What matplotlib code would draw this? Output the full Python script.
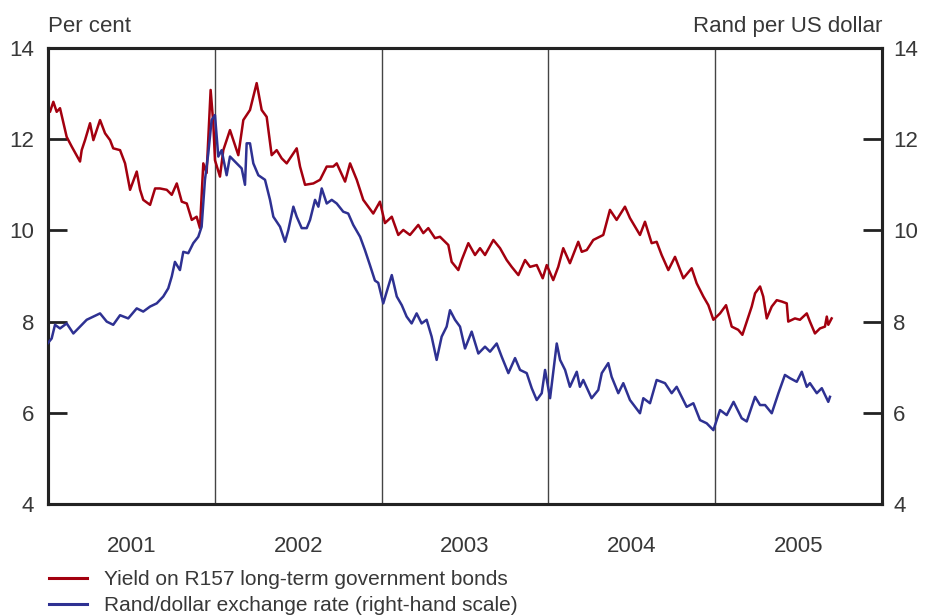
import matplotlib
matplotlib.use("Agg")
import matplotlib.pyplot as plt
from matplotlib.lines import Line2D

# R157 bond yield (per cent), decimal-year positions
yield_t = [
    2001.000, 2001.012, 2001.032, 2001.052, 2001.072, 2001.112, 2001.142, 2001.192, 2001.202, 2001.222,
    2001.252, 2001.272, 2001.312, 2001.342, 2001.372, 2001.391, 2001.432, 2001.462, 2001.492, 2001.532,
    2001.552, 2001.571, 2001.612, 2001.642, 2001.671, 2001.712, 2001.742, 2001.772, 2001.802, 2001.832,
    2001.862, 2001.891, 2001.911, 2001.931, 2001.951, 2001.975, 2001.991, 2002.001, 2002.031, 2002.051,
    2002.091, 2002.141, 2002.171, 2002.211, 2002.251, 2002.281, 2002.311, 2002.341, 2002.371, 2002.401,
    2002.431, 2002.491, 2002.511, 2002.541, 2002.591, 2002.631, 2002.671, 2002.710, 2002.731, 2002.781,
    2002.811, 2002.851, 2002.890, 2002.920, 2002.950, 2002.990, 2003.020, 2003.061, 2003.100, 2003.130,
    2003.170, 2003.220, 2003.250, 2003.280, 2003.320, 2003.350, 2003.400, 2003.420, 2003.460, 2003.480,
    2003.520, 2003.560, 2003.590, 2003.620, 2003.670, 2003.710, 2003.750, 2003.780, 2003.820, 2003.860,
    2003.890, 2003.930, 2003.966, 2003.990, 2004.029, 2004.059, 2004.089, 2004.129, 2004.179, 2004.200,
    2004.230, 2004.269, 2004.329, 2004.369, 2004.409, 2004.459, 2004.489, 2004.549, 2004.579, 2004.619,
    2004.649, 2004.679, 2004.719, 2004.759, 2004.809, 2004.859, 2004.889, 2004.929, 2004.959, 2004.989,
    2005.029, 2005.065, 2005.099, 2005.138, 2005.163, 2005.189, 2005.219, 2005.239, 2005.269, 2005.288,
    2005.309, 2005.339, 2005.369, 2005.399, 2005.429, 2005.438, 2005.478, 2005.508, 2005.549, 2005.568,
    2005.598, 2005.628, 2005.658, 2005.669, 2005.678, 2005.698,
]
yield_v = [
    12.65, 12.60, 12.82, 12.60, 12.68, 12.05, 11.84, 11.51, 11.76, 11.98,
    12.35, 11.98, 12.42, 12.13, 11.98, 11.80, 11.76, 11.47, 10.89, 11.29,
    10.89, 10.67, 10.56, 10.92, 10.92, 10.89, 10.78, 11.03, 10.63, 10.59,
    10.23, 10.30, 10.05, 11.47, 11.26, 13.08, 12.35, 11.54, 11.18, 11.76,
    12.20, 11.65, 12.42, 12.64, 13.23, 12.64, 12.49, 11.65, 11.76, 11.58,
    11.47, 11.80, 11.40, 11.00, 11.03, 11.11, 11.40, 11.40, 11.47, 11.07,
    11.47, 11.11, 10.67, 10.52, 10.37, 10.63, 10.16, 10.30, 9.90, 10.01,
    9.90, 10.12, 9.94, 10.05, 9.83, 9.86, 9.68, 9.31, 9.13, 9.35,
    9.72, 9.46, 9.61, 9.46, 9.79, 9.61, 9.35, 9.20, 9.02, 9.35,
    9.20, 9.24, 8.95, 9.24, 8.91, 9.20, 9.61, 9.28, 9.75, 9.53,
    9.57, 9.79, 9.90, 10.45, 10.23, 10.52, 10.27, 9.90, 10.19, 9.72,
    9.75, 9.46, 9.13, 9.42, 8.95, 9.17, 8.84, 8.55, 8.36, 8.04,
    8.18, 8.36, 7.89, 7.82, 7.71, 8.00, 8.33, 8.62, 8.77, 8.55,
    8.07, 8.33, 8.47, 8.44, 8.40, 8.00, 8.07, 8.04, 8.18, 8.00,
    7.74, 7.85, 7.89, 8.11, 7.93, 8.07,
]

# Rand per US dollar (right-hand scale)
rand_t = [
    2001.000, 2001.022, 2001.042, 2001.072, 2001.112, 2001.152, 2001.192, 2001.232, 2001.272, 2001.312,
    2001.352, 2001.391, 2001.432, 2001.481, 2001.532, 2001.571, 2001.612, 2001.652, 2001.691, 2001.721,
    2001.742, 2001.761, 2001.791, 2001.811, 2001.841, 2001.871, 2001.901, 2001.921, 2001.941, 2001.961,
    2001.981, 2002.001, 2002.021, 2002.041, 2002.071, 2002.091, 2002.131, 2002.161, 2002.181, 2002.191,
    2002.211, 2002.231, 2002.261, 2002.301, 2002.331, 2002.351, 2002.391, 2002.421, 2002.441, 2002.471,
    2002.491, 2002.521, 2002.551, 2002.571, 2002.601, 2002.621, 2002.641, 2002.671, 2002.701, 2002.731,
    2002.770, 2002.800, 2002.830, 2002.871, 2002.900, 2002.930, 2002.960, 2002.980, 2003.010, 2003.040,
    2003.061, 2003.091, 2003.121, 2003.150, 2003.180, 2003.210, 2003.240, 2003.270, 2003.300, 2003.330,
    2003.360, 2003.390, 2003.410, 2003.440, 2003.470, 2003.500, 2003.540, 2003.580, 2003.620, 2003.650,
    2003.690, 2003.720, 2003.760, 2003.800, 2003.830, 2003.870, 2003.900, 2003.930, 2003.960, 2003.980,
    2004.010, 2004.050, 2004.070, 2004.100, 2004.129, 2004.170, 2004.189, 2004.209, 2004.259, 2004.299,
    2004.320, 2004.359, 2004.379, 2004.419, 2004.449, 2004.489, 2004.549, 2004.569, 2004.609, 2004.649,
    2004.699, 2004.739, 2004.769, 2004.829, 2004.869, 2004.909, 2004.949, 2004.989, 2005.029, 2005.069,
    2005.110, 2005.159, 2005.189, 2005.239, 2005.269, 2005.299, 2005.339, 2005.379, 2005.418, 2005.448,
    2005.489, 2005.519, 2005.549, 2005.568, 2005.609, 2005.639, 2005.678, 2005.688,
]
rand_v = [
    7.53, 7.63, 7.93, 7.85, 7.96, 7.74, 7.89, 8.04, 8.11, 8.18,
    8.00, 7.93, 8.14, 8.07, 8.29, 8.22, 8.33, 8.40, 8.55, 8.73,
    8.99, 9.31, 9.13, 9.53, 9.50, 9.72, 9.86, 10.08, 11.11, 11.69,
    12.42, 12.53, 11.62, 11.76, 11.21, 11.62, 11.47, 11.36, 11.00, 11.91,
    11.91, 11.47, 11.21, 11.11, 10.67, 10.30, 10.08, 9.75, 10.01, 10.52,
    10.30, 10.05, 10.05, 10.23, 10.67, 10.52, 10.92, 10.59, 10.67, 10.59,
    10.41, 10.37, 10.12, 9.86, 9.57, 9.24, 8.90, 8.85, 8.40, 8.77,
    9.02, 8.55, 8.36, 8.11, 7.96, 8.18, 7.96, 8.04, 7.67, 7.16,
    7.67, 7.89, 8.25, 8.04, 7.89, 7.41, 7.78, 7.30, 7.45, 7.34,
    7.52, 7.23, 6.87, 7.20, 6.94, 6.87, 6.54, 6.28, 6.43, 6.94,
    6.32, 7.52, 7.16, 6.94, 6.57, 6.90, 6.57, 6.72, 6.32, 6.50,
    6.87, 7.09, 6.79, 6.43, 6.65, 6.28, 5.99, 6.32, 6.21, 6.72,
    6.65, 6.43, 6.57, 6.13, 6.21, 5.84, 5.77, 5.62, 6.06, 5.95,
    6.24, 5.88, 5.81, 6.35, 6.17, 6.17, 5.99, 6.43, 6.83, 6.76,
    6.68, 6.90, 6.57, 6.65, 6.43, 6.54, 6.24, 6.35,
]

years = [2001, 2002, 2003, 2004, 2005]
yticks = [4, 6, 8, 10, 12, 14]

RED = "#a3000f"
BLUE = "#2e3192"
TXT = "#383838"
DARK = "#222222"

plt.rcParams["font.family"] = ["Liberation Sans", "DejaVu Sans"]

fig = plt.figure(figsize=(9.26, 6.15), dpi=100)
ax = fig.add_axes([48 / 926, 1 - 504 / 615, (882 - 48) / 926, (504 - 48) / 615])
ax2 = ax.twinx()

# year separators
for y in years[1:]:
    ax.axvline(y, color="#444444", lw=1.0, zorder=1)

ax.plot(yield_t, yield_v, color=RED, lw=1.8, zorder=3)
ax2.plot(rand_t, rand_v, color=BLUE, lw=1.8, zorder=3)

for a in (ax, ax2):
    a.set_xlim(2001, 2006)
    a.set_ylim(4, 14)
    a.set_yticks(yticks)
    for s in a.spines.values():
        s.set_linewidth(2.2)
        s.set_color(DARK)

ax.tick_params(axis="y", direction="in", length=14, width=2, color=DARK,
               labelsize=16, labelcolor=TXT, pad=10)
ax2.tick_params(axis="y", direction="in", length=14, width=2, color=DARK,
                labelsize=16, labelcolor=TXT, pad=8)
ax.set_xticks([y + 0.5 for y in years])
ax.set_xticklabels([str(y) for y in years])
ax.tick_params(axis="x", length=0, labelsize=16, labelcolor=TXT, pad=23)

fig.text(48 / 926, 1 - 32 / 615, "Per cent", ha="left", va="baseline",
         fontsize=16, color=TXT)
fig.text(882 / 926, 1 - 32 / 615, "Rand per US dollar", ha="right", va="baseline",
         fontsize=16, color=TXT)

handles = [Line2D([], [], color=RED, lw=2.2), Line2D([], [], color=BLUE, lw=2.2)]
labels = ["Yield on R157 long-term government bonds",
          "Rand/dollar exchange rate (right-hand scale)"]
fig.legend(handles, labels, loc="upper left", bbox_to_anchor=(49 / 926, 1 - 570 / 615),
           frameon=False, fontsize=15, labelcolor=TXT, handlelength=1.8,
           handletextpad=0.85, labelspacing=0.33, borderpad=0, borderaxespad=0)

fig.savefig("out.png", dpi=100)
